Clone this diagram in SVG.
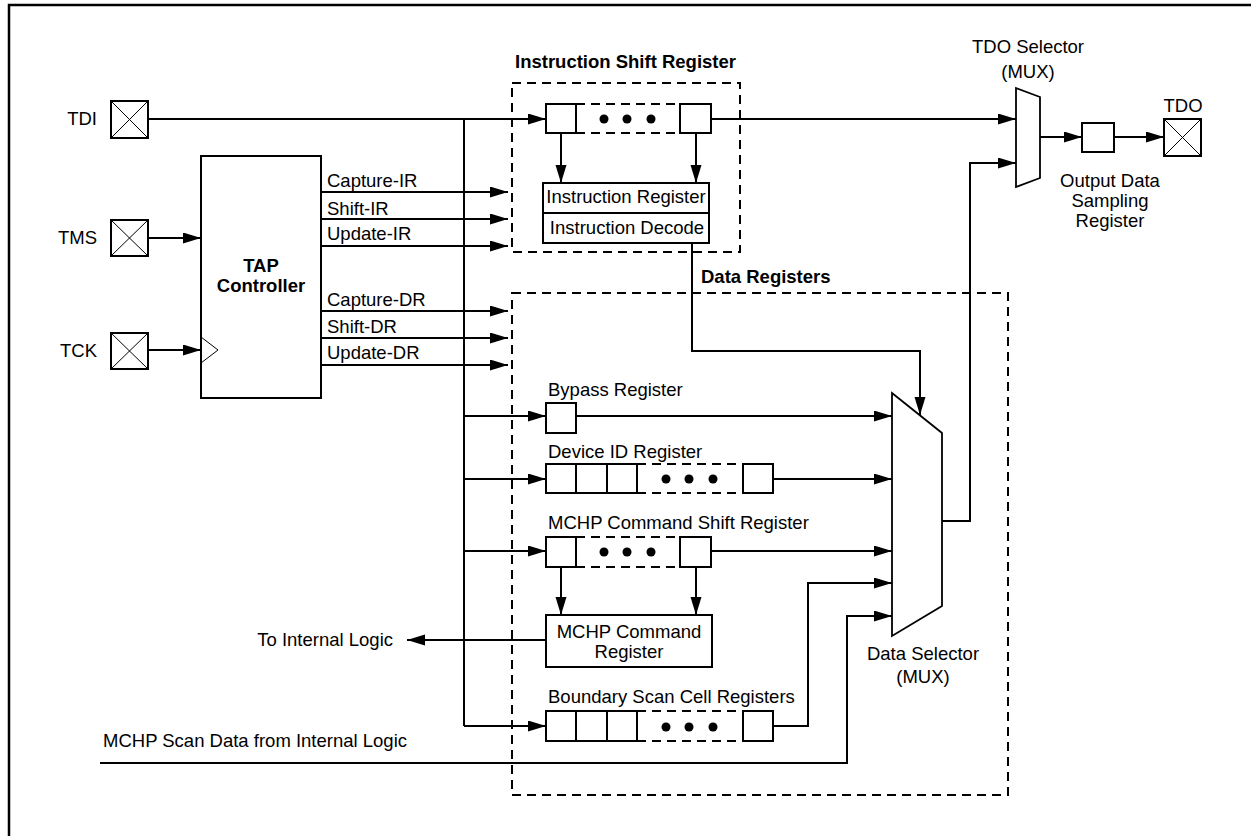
<svg xmlns="http://www.w3.org/2000/svg" width="1251" height="836" viewBox="0 0 1251 836">
<style>
.ln{fill:none;stroke:#000;stroke-width:2}
.ar{marker-end:url(#ah)}
.bx{fill:#fff;stroke:#000;stroke-width:2}
.ds{fill:none;stroke:#000;stroke-width:2;stroke-dasharray:9 6}
.t{font-family:"Liberation Sans",Arial,sans-serif;font-size:18.5px;fill:#000}
.b{font-weight:bold}
.m{text-anchor:middle}
.e{text-anchor:end}
.mux{fill:#fff;stroke:#000;stroke-width:1.8}
.pad rect{fill:#fff;stroke:#000;stroke-width:2}
.pad line{stroke:#000;stroke-width:1}
.dot{fill:#000}
</style>
<defs>
<marker id="ah" markerUnits="userSpaceOnUse" markerWidth="18" markerHeight="12" refX="18" refY="5.5" orient="auto"><path d="M0,0 L18,5.5 L0,11 z" fill="#000"/></marker>
</defs>
<rect width="1251" height="836" fill="#fff"/>
<path d="M9,836 V5 H1251" fill="none" stroke="#000" stroke-width="2.5"/>

<g id="connectors">
<path class="ln ar" d="M148,119 H546"/>
<path class="ln" d="M464,119 V726"/>
<path class="ln ar" d="M148,238 H201"/>
<path class="ln ar" d="M148,350 H201"/>
<path class="ln ar" d="M321,192 H508"/>
<path class="ln ar" d="M321,219 H508"/>
<path class="ln ar" d="M321,246 H508"/>
<path class="ln ar" d="M321,311 H508"/>
<path class="ln ar" d="M321,338 H508"/>
<path class="ln ar" d="M321,365 H508"/>
<path class="ln ar" d="M561,133 V183"/>
<path class="ln ar" d="M696,133 V183"/>
<path class="ln ar" d="M711,119 H1016"/>
<path class="ln ar" d="M1040,137 H1082"/>
<path class="ln ar" d="M1114,137 H1164"/>
<path class="ln ar" d="M692,243 V351 H920 V415"/>
<path class="ln ar" d="M942,521 H970 V163 H1016"/>
<path class="ln ar" d="M464,416 H546"/>
<path class="ln ar" d="M464,479 H546"/>
<path class="ln ar" d="M464,551 H546"/>
<path class="ln ar" d="M464,726 H546"/>
<path class="ln ar" d="M576,416 H892"/>
<path class="ln ar" d="M773,479 H892"/>
<path class="ln ar" d="M711,551 H892"/>
<path class="ln ar" d="M561,567 V615"/>
<path class="ln ar" d="M696,567 V615"/>
<path class="ln ar" d="M546,640 H407"/>
<path class="ln ar" d="M773,726 H808 V583 H892"/>
<path class="ln ar" d="M100,763 H847 V616 H892"/>
</g>

<g id="pad-tdi" class="pad"><rect x="111" y="101" width="37" height="37"/><line x1="111" y1="101" x2="148" y2="138"/><line x1="148" y1="101" x2="111" y2="138"/><text class="t e" x="97" y="125">TDI</text></g>
<g id="pad-tms" class="pad"><rect x="111" y="220" width="37" height="36"/><line x1="111" y1="220" x2="148" y2="256"/><line x1="148" y1="220" x2="111" y2="256"/><text class="t e" x="97" y="244">TMS</text></g>
<g id="pad-tck" class="pad"><rect x="111" y="333" width="37" height="36"/><line x1="111" y1="333" x2="148" y2="369"/><line x1="148" y1="333" x2="111" y2="369"/><text class="t e" x="97" y="357">TCK</text></g>
<g id="pad-tdo" class="pad"><rect x="1164" y="119" width="37" height="37"/><line x1="1164" y1="119" x2="1201" y2="156"/><line x1="1201" y1="119" x2="1164" y2="156"/><text class="t m" x="1183" y="112">TDO</text></g>

<g id="tap-controller">
<rect class="bx" x="201" y="156" width="120" height="242"/>
<path d="M201,337 L218,350 L201,363" fill="none" stroke="#000" stroke-width="1"/>
<text class="t b m" x="261" y="272">TAP</text>
<text class="t b m" x="261" y="292">Controller</text>
<text class="t" x="327" y="187">Capture-IR</text>
<text class="t" x="327" y="215">Shift-IR</text>
<text class="t" x="327" y="240">Update-IR</text>
<text class="t" x="327" y="306">Capture-DR</text>
<text class="t" x="327" y="333">Shift-DR</text>
<text class="t" x="327" y="359">Update-DR</text>
</g>

<g id="instruction-shift-register">
<rect class="ds" x="512" y="83" width="228" height="169"/>
<text class="t b" x="515" y="68">Instruction Shift Register</text>
<rect class="bx" x="546" y="104" width="30" height="29"/>
<path class="ds" d="M576,104 H680 M576,133 H680"/>
<rect class="bx" x="680" y="104" width="31" height="29"/>
<circle class="dot" cx="604" cy="119" r="4.5"/><circle class="dot" cx="627" cy="119" r="4.5"/><circle class="dot" cx="651" cy="119" r="4.5"/>
<rect class="bx" x="543" y="183" width="166" height="60"/>
<line x1="543" y1="213" x2="709" y2="213" stroke="#000" stroke-width="2"/>
<text class="t m" x="626" y="203">Instruction Register</text>
<text class="t m" x="627" y="234">Instruction Decode</text>
</g>

<g id="tdo-selector">
<polygon class="mux" points="1016,88 1040,97 1040,178 1016,187"/>
<text class="t m" x="1028" y="53">TDO Selector</text>
<text class="t m" x="1028" y="78">(MUX)</text>
</g>

<g id="output-data-sampling-register">
<rect class="bx" x="1082" y="123" width="32" height="29"/>
<text class="t m" x="1110" y="187">Output Data</text>
<text class="t m" x="1110" y="207">Sampling</text>
<text class="t m" x="1110" y="227">Register</text>
</g>

<g id="data-registers">
<rect class="ds" x="512" y="293" width="496" height="502"/>
<text class="t b" x="701" y="283">Data Registers</text>
</g>

<g id="bypass-register">
<text class="t" x="548" y="396">Bypass Register</text>
<rect class="bx" x="546" y="403" width="30" height="30"/>
</g>

<g id="device-id-register">
<text class="t" x="548" y="458">Device ID Register</text>
<rect class="bx" x="546" y="464" width="30" height="29"/>
<rect class="bx" x="576" y="464" width="31" height="29"/>
<rect class="bx" x="607" y="464" width="30" height="29"/>
<path class="ds" d="M637,464 H743 M637,493 H743"/>
<rect class="bx" x="743" y="464" width="30" height="29"/>
<circle class="dot" cx="666" cy="479" r="4.5"/><circle class="dot" cx="689" cy="479" r="4.5"/><circle class="dot" cx="713" cy="479" r="4.5"/>
</g>

<g id="mchp-command-shift-register">
<text class="t" x="548" y="529">MCHP Command Shift Register</text>
<rect class="bx" x="546" y="537" width="30" height="30"/>
<path class="ds" d="M576,537 H680 M576,567 H680"/>
<rect class="bx" x="680" y="537" width="31" height="30"/>
<circle class="dot" cx="604" cy="552" r="4.5"/><circle class="dot" cx="627" cy="552" r="4.5"/><circle class="dot" cx="651" cy="552" r="4.5"/>
</g>

<g id="mchp-command-register">
<rect class="bx" x="546" y="615" width="166" height="52"/>
<text class="t m" x="629" y="638">MCHP Command</text>
<text class="t m" x="629" y="658">Register</text>
</g>

<g id="to-internal-logic"><text class="t e" x="393" y="646">To Internal Logic</text></g>

<g id="boundary-scan-cell-registers">
<text class="t" x="548" y="703">Boundary Scan Cell Registers</text>
<rect class="bx" x="546" y="711" width="30" height="30"/>
<rect class="bx" x="576" y="711" width="31" height="30"/>
<rect class="bx" x="607" y="711" width="30" height="30"/>
<path class="ds" d="M637,711 H743 M637,741 H743"/>
<rect class="bx" x="743" y="711" width="30" height="30"/>
<circle class="dot" cx="666" cy="727" r="4.5"/><circle class="dot" cx="689" cy="727" r="4.5"/><circle class="dot" cx="713" cy="727" r="4.5"/>
</g>

<g id="mchp-scan-data"><text class="t" x="103" y="747">MCHP Scan Data from Internal Logic</text></g>

<g id="data-selector">
<polygon class="mux" points="892,393 942,433 942,606 892,636"/>
<text class="t m" x="923" y="660">Data Selector</text>
<text class="t m" x="923" y="683">(MUX)</text>
</g>
</svg>
